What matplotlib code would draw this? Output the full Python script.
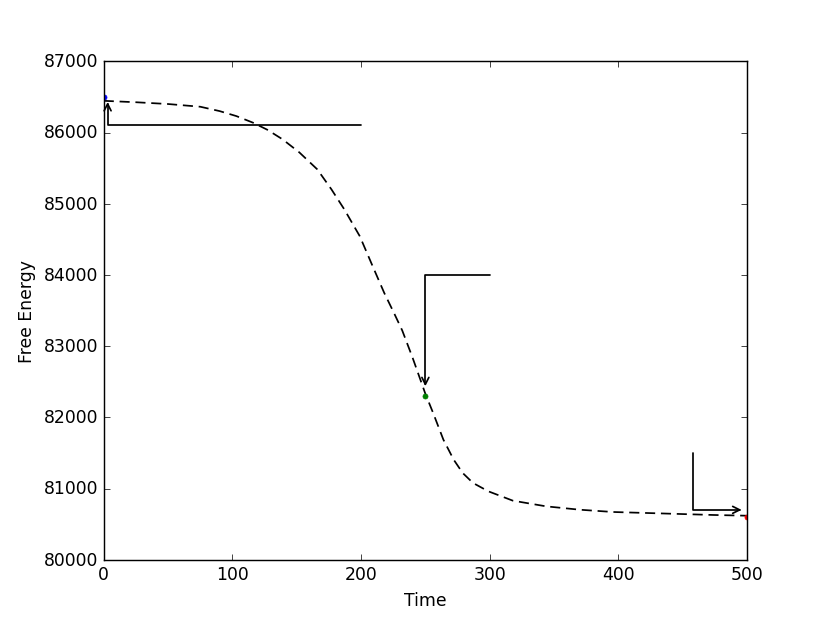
import matplotlib
matplotlib.use('Agg')
from matplotlib import pyplot as plt

# free energy curve
time = [0, 25, 50, 75, 90, 103, 116, 127, 139, 152, 166, 177, 187, 199,
        209, 218, 226, 232, 240, 250, 256, 264, 272, 279, 287, 299, 318,
        344, 370, 396, 422, 448, 474, 500]
energy = [86445, 86425, 86400, 86362, 86301, 86231, 86138, 86040, 85904,
          85721, 85482, 85201, 84920, 84544, 84123, 83748, 83450, 83220,
          82840, 82330, 82062, 81686, 81405, 81218, 81078, 80960, 80829,
          80749, 80702, 80670, 80656, 80642, 80628, 80618]

# highlighted states
state_time = [0, 250, 500]
state_energy = [86500, 82300, 80600]
state_fmt = ['b.', 'g.', 'r.']

# annotation arrows: (target, text position, connection style)
arrow_xy = [(3, 86470), (250, 82395), (498, 80700)]
arrow_text = [(200, 86100), (300, 84000), (458, 81500)]
arrow_conn = ['angle,angleA=0,angleB=90,rad=0',
              'angle,angleA=0,angleB=90,rad=0',
              'angle,angleA=90,angleB=0,rad=0']

plt.style.use('classic')
fig = plt.figure(figsize=(8, 6.0048), dpi=103.75, facecolor='white')
ax = fig.add_subplot(111)

ax.plot(time, energy, 'k--', lw=1.2, dashes=(7, 4))
for t, e, f in zip(state_time, state_energy, state_fmt):
    ax.plot(t, e, f, markersize=7)

for xy, xytext, conn in zip(arrow_xy, arrow_text, arrow_conn):
    ax.annotate('', xy=xy, xytext=xytext, xycoords='data', textcoords='data',
                arrowprops=dict(arrowstyle='->', connectionstyle=conn,
                                color='black', lw=1.2, shrinkA=0))

ax.set_xlim(0, 500)
ax.set_ylim(80000, 87000)
ax.set_xlabel('Time')
ax.set_ylabel('Free Energy')
ax.ticklabel_format(useOffset=False, style='plain')

fig.savefig('out.png', dpi=103.75, facecolor='white')
